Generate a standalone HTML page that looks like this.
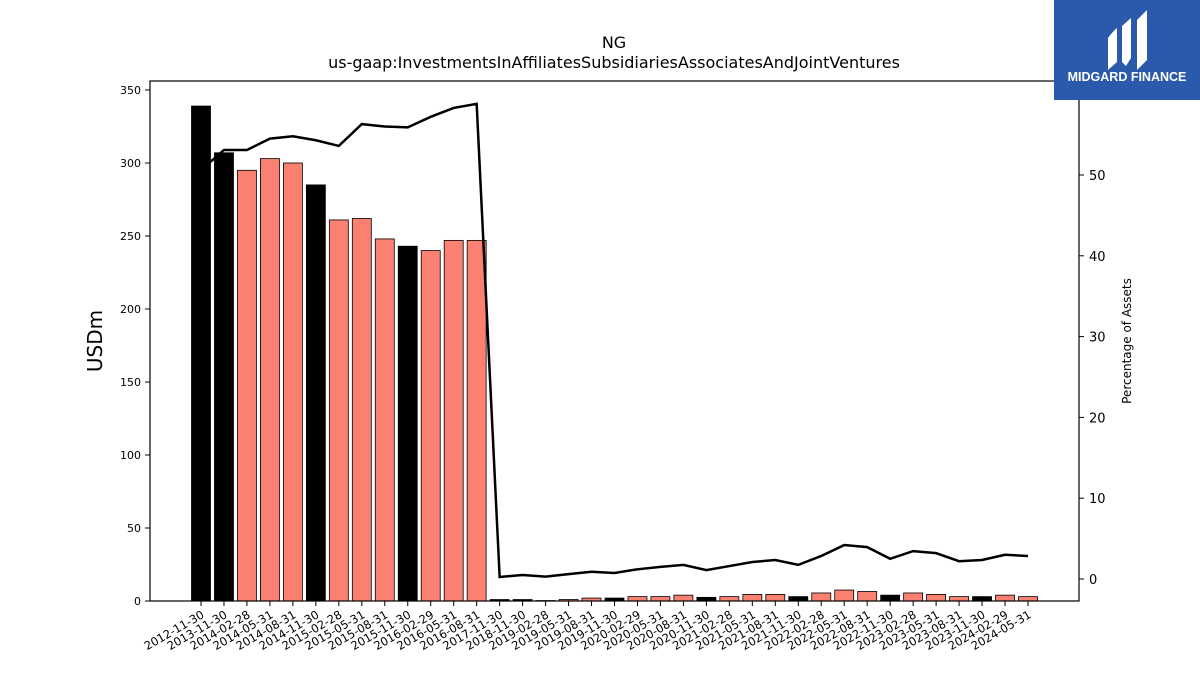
<!DOCTYPE html>
<html><head><meta charset="utf-8"><style>
body{margin:0;background:#fff;width:1200px;height:675px;overflow:hidden;font-family:"DejaVu Sans","Liberation Sans",sans-serif}
</style></head><body>
<svg id="chart" width="1200" height="675" xmlns="http://www.w3.org/2000/svg" font-family="DejaVu Sans, Liberation Sans, sans-serif">
<text x="614" y="48" text-anchor="middle" font-size="16">NG</text>
<text x="614" y="68" text-anchor="middle" font-size="16">us-gaap:InvestmentsInAffiliatesSubsidiariesAssociatesAndJointVentures</text>
<g id="bars"></g>
<g id="line"></g>
<rect x="150" y="81" width="929" height="520" fill="none" stroke="#000" stroke-width="1.2"/>
<g id="yl"></g>
<g id="yr"></g>
<g id="xa"></g>
<text transform="translate(102,341) rotate(-90)" text-anchor="middle" font-size="20">USDm</text>
<text transform="translate(1131,341) rotate(-90)" text-anchor="middle" font-size="12">Percentage of Assets</text>
<g>
<rect x="1054" y="0" width="146" height="100" fill="#2b5aad"/>
<path d="M1108 38 Q1114 30 1117 28 L1117 62 L1108 70 Z" fill="#fff"/>
<path d="M1122 26 L1131 18 L1131 58 L1126 66 L1122 62 Z" fill="#fff"/>
<path d="M1137 20 L1147 10 L1147 60 L1137 70 Z" fill="#fff"/>
<text x="1127" y="81" text-anchor="middle" font-size="12.5" font-weight="bold" fill="#fff" font-family="Liberation Sans, sans-serif">MIDGARD FINANCE</text>
</g>
</svg>
<script>
const categories=["2012-11-30","2013-11-30","2014-02-28","2014-05-31","2014-08-31","2014-11-30","2015-02-28","2015-05-31","2015-08-31","2015-11-30","2016-02-29","2016-05-31","2016-08-31","2017-11-30","2018-11-30","2019-02-28","2019-05-31","2019-08-31","2019-11-30","2020-02-29","2020-05-31","2020-08-31","2020-11-30","2021-02-28","2021-05-31","2021-08-31","2021-11-30","2022-02-28","2022-05-31","2022-08-31","2022-11-30","2023-02-28","2023-05-31","2023-08-31","2023-11-30","2024-02-29","2024-05-31"];
const values=[339,307,295,303,300,285,261,262,248,243,240,247,247,1,1,0.3,1,2,2,3,3,4,2.5,3,4.5,4.5,3,5.5,7.5,6.5,4,5.5,4.5,3,3,4,3];
const pctValues=[50.6,53.1,53.1,54.5,54.8,54.3,53.6,56.3,56,55.9,57.2,58.3,58.8,0.25,0.5,0.3,0.6,0.9,0.75,1.2,1.5,1.75,1.1,1.6,2.1,2.35,1.75,2.85,4.2,3.95,2.5,3.45,3.2,2.2,2.35,3,2.85];
const leftTicks=[0,50,100,150,200,250,300,350];
const rightTicks=[0,10,20,30,40,50];
const NS="http://www.w3.org/2000/svg";
const x0=201,step=(1028-201)/(categories.length-1);
const xs=i=>x0+i*step;
const yL=v=>601-v*(511/350);
const yR=v=>579-v*8.08;
function mk(t,a){const e=document.createElementNS(NS,t);for(const k in a)e.setAttribute(k,a[k]);return e;}
const bars=document.getElementById('bars');
values.forEach((v,i)=>{
 const black=categories[i].slice(5)==="11-30";
 const r=mk('rect',{x:xs(i)-9.5,y:yL(v),width:19,height:601-yL(v),fill:black?'#000':'#fa8072',stroke:'#000','stroke-width':0.8});
 
 
 bars.appendChild(r);
});
const pl=mk('polyline',{points:pctValues.map((v,i)=>xs(i)+','+yR(v)).join(' '),fill:'none',stroke:'#000','stroke-width':2.5});


document.getElementById('line').appendChild(pl);
const yl=document.getElementById('yl');
leftTicks.forEach(t=>{
 yl.appendChild(mk('line',{x1:145,x2:150,y1:yL(t),y2:yL(t),stroke:'#000'}));
 const tx=mk('text',{x:141,y:yL(t)+4,'text-anchor':'end','font-size':11});tx.textContent=t;
 
 
 yl.appendChild(tx);
});
const yr=document.getElementById('yr');
rightTicks.forEach(t=>{
 yr.appendChild(mk('line',{x1:1079,x2:1084,y1:yR(t),y2:yR(t),stroke:'#000'}));
 const tx=mk('text',{x:1089,y:yR(t)+5,'font-size':13});tx.textContent=t;
 
 
 yr.appendChild(tx);
});
const xa=document.getElementById('xa');
categories.forEach((c,i)=>{
 xa.appendChild(mk('line',{x1:xs(i),x2:xs(i),y1:601,y2:606,stroke:'#000'}));
 const tx=mk('text',{transform:`translate(${xs(i)+4},${617}) rotate(-30)`,'text-anchor':'end','font-size':11.5});tx.textContent=c;
 
 
 xa.appendChild(tx);
});
</script>
</body></html>
